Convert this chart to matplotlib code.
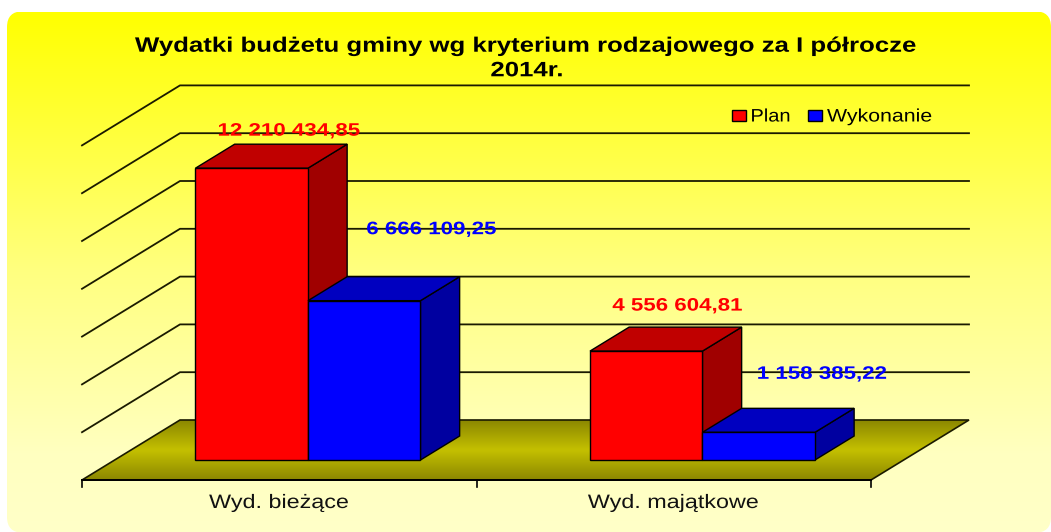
import numpy as np
import matplotlib.pyplot as plt
from matplotlib.patches import FancyBboxPatch, Polygon, Rectangle
from matplotlib.colors import LinearSegmentedColormap
from matplotlib.patheffects import AbstractPathEffect
from matplotlib.transforms import Affine2D

categories = ["Wyd. bieżące", "Wyd. majątkowe"]
series_names = ["Plan", "Wykonanie"]
plan = [12210434.85, 4556604.81]
wykonanie = [6666109.25, 1158385.22]
grid_values = [2, 4, 6, 8, 10, 12, 14]  # millions
title = "Wydatki budżetu gminy wg kryterium rodzajowego za I półrocze\n2014r."

W, H = 1051, 532
PX_X = 394.5   # pixels per category
PX_Y = 23.9    # pixels per million
X0, Y0 = 82, 480  # front left corner of the floor
DEPTH_X = 98 / PX_X
DEPTH_Y = 60 / PX_Y
BAR_W = 112.5 / PX_X
BAR_NEAR, BAR_FAR = 1 / 3, 0.733
FONT = "Liberation Sans"


class Stretch(AbstractPathEffect):
    """The reference text is Arial pulled wider, so scale each line in x."""

    def __init__(self, sx, anchor="center"):
        super().__init__()
        self.sx = sx
        self.anchor = anchor

    def draw_path(self, renderer, gc, tpath, affine, rgbFace=None):
        ext = tpath.get_extents()
        cx = ext.x0 if self.anchor == "left" else (ext.x0 + ext.x1) / 2
        scale = Affine2D().translate(-cx, 0).scale(self.sx, 1).translate(cx, 0)
        renderer.draw_path(gc, tpath, scale + affine, rgbFace)


def xpx(p):
    return (p - X0) / PX_X


def ypx(p):
    return (Y0 - p) / PX_Y


fig = plt.figure(figsize=(W / 100, H / 100), dpi=100)
ax = fig.add_axes([0, 0, 1, 1])
ax.axis("off")

# page background, rounded yellow gradient
bg_cmap = LinearSegmentedColormap.from_list(
    "bg", [(0, "#ffff00"), (0.5, "#ffff80"), (0.85, "#ffffc0"), (1, "#ffffc8")])
bg = ax.imshow(np.linspace(0, 1, 256).reshape(-1, 1), cmap=bg_cmap, aspect="auto",
               extent=(xpx(7), xpx(W), ypx(H), ypx(12)), zorder=0)
bg_clip = FancyBboxPatch((xpx(7) + 0.04, ypx(H) + 0.63), xpx(W) - xpx(7) - 0.08, ypx(12) - ypx(H) - 1.26,
                         boxstyle="round,pad=0.04", mutation_aspect=PX_X / PX_Y,
                         transform=ax.transData, fc="none", ec="none")
ax.add_patch(bg_clip)
bg.set_clip_path(bg_clip)

# floor
floor_pts = [(0, 0), (2, 0), (2 + DEPTH_X, DEPTH_Y), (DEPTH_X, DEPTH_Y)]
floor_cmap = LinearSegmentedColormap.from_list("floor", ["#8c8800", "#c4c000", "#8c8800"])
floor = ax.imshow(np.linspace(0, 1, 64).reshape(-1, 1), cmap=floor_cmap, aspect="auto",
                  extent=(0, 2 + DEPTH_X, 0, DEPTH_Y), zorder=1)
floor_poly = Polygon(floor_pts, closed=True, fc="none", ec="#1a1a00", lw=1.2, zorder=1.5)
ax.add_patch(floor_poly)
floor.set_clip_path(floor_poly)

# walls: gridlines run along the back and down the left side
for g in grid_values:
    ax.plot([0, DEPTH_X, 2 + DEPTH_X], [g, g + DEPTH_Y, g + DEPTH_Y],
            color="#1a1a00", lw=1.3, zorder=1)

# x axis
ax.plot([0, 2], [0, 0], color="black", lw=1.4, zorder=2)
for t in range(3):
    ax.plot([t, t], [0, ypx(Y0 + 7)], color="black", lw=1.2, zorder=2)


def bar3d(x, value, face, top, side, z):
    """Front face through ax.bar, then the oblique top and side faces."""
    left = x + BAR_NEAR * DEPTH_X
    base = BAR_NEAR * DEPTH_Y
    dx = (BAR_FAR - BAR_NEAR) * DEPTH_X
    dy = (BAR_FAR - BAR_NEAR) * DEPTH_Y
    v = value / 1e6
    ax.fill([left + BAR_W, left + BAR_W + dx, left + BAR_W + dx, left + BAR_W],
            [base, base + dy, base + v + dy, base + v], fc=side, ec="black", lw=1, zorder=z)
    ax.fill([left, left + dx, left + BAR_W + dx, left + BAR_W],
            [base + v, base + v + dy, base + v + dy, base + v], fc=top, ec="black", lw=1, zorder=z)
    ax.bar(left, v, width=BAR_W, bottom=base, align="edge", color=face, ec="black", lw=1, zorder=z)


def money(v):
    return f"{v:,.2f}".replace(",", " ").replace(".", ",")


# label offsets from the front top centre of each bar, pixels
label_nudge = {"plan": [(37, 37), (31, 45)], "wykonanie": [(67, 71), (63, 58)]}

for i in range(len(categories)):
    center = i + 0.49
    bar3d(center - BAR_W, plan[i], "#ff0000", "#c00000", "#a00000", 3 + i)
    bar3d(center, wykonanie[i], "#0000ff", "#0000c0", "#0000a0", 3.5 + i)
    base = BAR_NEAR * DEPTH_Y
    near = BAR_NEAR * DEPTH_X
    nx, ny = label_nudge["plan"][i]
    ax.text(center - BAR_W / 2 + near + nx / PX_X, base + plan[i] / 1e6 + ny / PX_Y, money(plan[i]),
            color="#ff0000", fontsize=13, fontweight="bold", family=FONT,
            ha="center", va="center", zorder=8, path_effects=[Stretch(1.235)])
    nx, ny = label_nudge["wykonanie"][i]
    ax.text(center + BAR_W / 2 + near + nx / PX_X, base + wykonanie[i] / 1e6 + ny / PX_Y, money(wykonanie[i]),
            color="#0000ff", fontsize=13, fontweight="bold", family=FONT,
            ha="center", va="center", zorder=8, path_effects=[Stretch(1.235)])
    ax.text(i + 0.5, ypx(503.5), categories[i], fontsize=14, family=FONT, color="#111111",
            ha="center", va="center", zorder=8, path_effects=[Stretch(1.2)])

ax.text(xpx(527), ypx(58.5), title, fontsize=15, fontweight="bold", family=FONT, color="black",
        ha="center", va="center", linespacing=1.37, zorder=8, path_effects=[Stretch(1.237)])

handles = [Rectangle((0, 0), 1, 1, fc="#ff0000", ec="black", lw=1),
           Rectangle((0, 0), 1, 1, fc="#0000ff", ec="black", lw=1)]
legend = ax.legend(handles, series_names, ncols=2, loc="center left", bbox_to_anchor=(732 / W, 1 - 117 / H),
                   frameon=False, prop={"family": FONT, "size": 13}, handlelength=0.75, handleheight=0.55,
                   handletextpad=0.28, columnspacing=1.2, borderpad=0, borderaxespad=0)
for txt, sx in zip(legend.get_texts(), [1.11, 1.18]):
    txt.set_path_effects([Stretch(sx, anchor="left")])

ax.set_xlim(xpx(0), xpx(W))
ax.set_ylim(ypx(H), ypx(0))
fig.savefig("out.png", dpi=100, facecolor="white")
